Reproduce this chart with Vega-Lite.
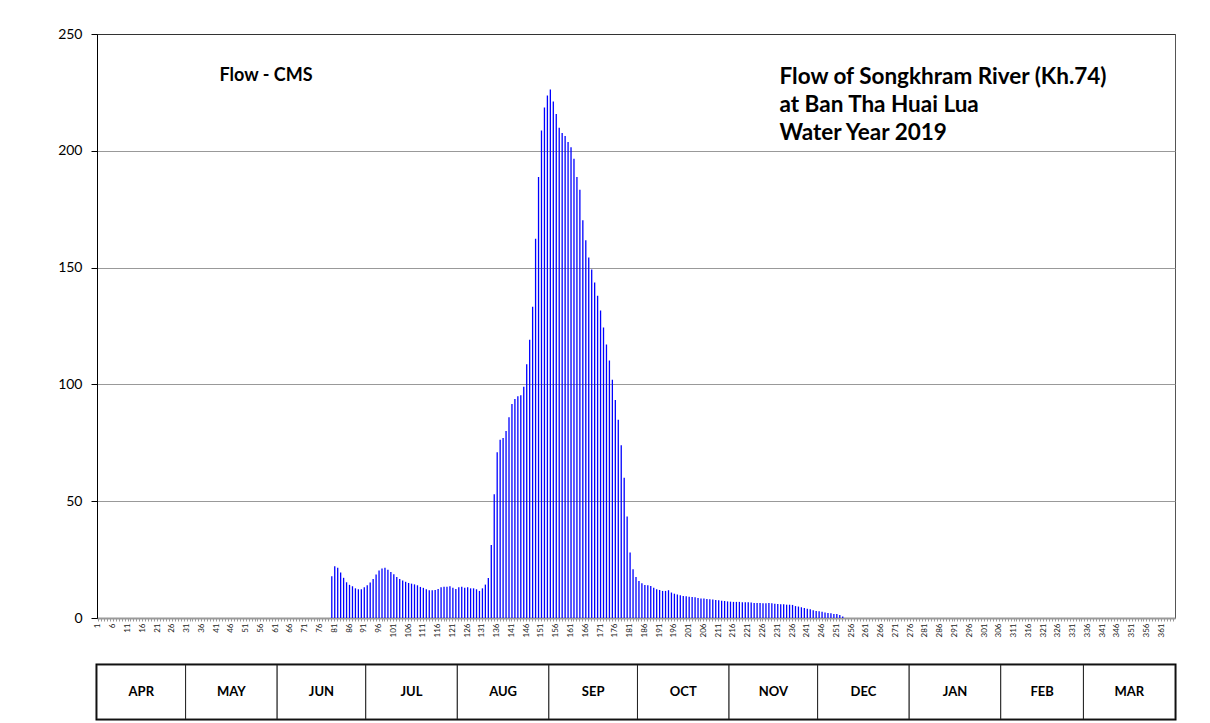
{
"$schema": "https://vega.github.io/schema/vega-lite/v6.json",
"background": "white",
"padding": {"left": 57, "top": 26, "right": 0, "bottom": 0},
"autosize": {"type": "pad"},
"config": {"font": "Lato", "view": {"stroke": null}},
"spacing": 25,
"datasets": {
"flow": [
{"day":1,"flow":0},{"day":2,"flow":0},{"day":3,"flow":0},{"day":4,"flow":0},{"day":5,"flow":0},{"day":6,"flow":0},{"day":7,"flow":0},{"day":8,"flow":0},{"day":9,"flow":0},{"day":10,"flow":0},
{"day":11,"flow":0},{"day":12,"flow":0},{"day":13,"flow":0},{"day":14,"flow":0},{"day":15,"flow":0},{"day":16,"flow":0},{"day":17,"flow":0},{"day":18,"flow":0},{"day":19,"flow":0},{"day":20,"flow":0},
{"day":21,"flow":0},{"day":22,"flow":0},{"day":23,"flow":0},{"day":24,"flow":0},{"day":25,"flow":0},{"day":26,"flow":0},{"day":27,"flow":0},{"day":28,"flow":0},{"day":29,"flow":0},{"day":30,"flow":0},
{"day":31,"flow":0},{"day":32,"flow":0},{"day":33,"flow":0},{"day":34,"flow":0},{"day":35,"flow":0},{"day":36,"flow":0},{"day":37,"flow":0},{"day":38,"flow":0},{"day":39,"flow":0},{"day":40,"flow":0},
{"day":41,"flow":0},{"day":42,"flow":0},{"day":43,"flow":0},{"day":44,"flow":0},{"day":45,"flow":0},{"day":46,"flow":0},{"day":47,"flow":0},{"day":48,"flow":0},{"day":49,"flow":0},{"day":50,"flow":0},
{"day":51,"flow":0},{"day":52,"flow":0},{"day":53,"flow":0},{"day":54,"flow":0},{"day":55,"flow":0},{"day":56,"flow":0},{"day":57,"flow":0},{"day":58,"flow":0},{"day":59,"flow":0},{"day":60,"flow":0},
{"day":61,"flow":0},{"day":62,"flow":0},{"day":63,"flow":0},{"day":64,"flow":0},{"day":65,"flow":0},{"day":66,"flow":0},{"day":67,"flow":0},{"day":68,"flow":0},{"day":69,"flow":0},{"day":70,"flow":0},
{"day":71,"flow":0},{"day":72,"flow":0},{"day":73,"flow":0},{"day":74,"flow":0},{"day":75,"flow":0},{"day":76,"flow":0},{"day":77,"flow":0},{"day":78,"flow":0},{"day":79,"flow":0},{"day":80,"flow":17.9},
{"day":81,"flow":22.2},{"day":82,"flow":21.5},{"day":83,"flow":19.5},{"day":84,"flow":17.2},{"day":85,"flow":15.3},{"day":86,"flow":14.2},{"day":87,"flow":13.6},{"day":88,"flow":12.7},{"day":89,"flow":12.3},{"day":90,"flow":12.3},
{"day":91,"flow":13.2},{"day":92,"flow":14.0},{"day":93,"flow":15.2},{"day":94,"flow":16.7},{"day":95,"flow":18.6},{"day":96,"flow":20.3},{"day":97,"flow":21.2},{"day":98,"flow":21.5},{"day":99,"flow":20.7},{"day":100,"flow":19.7},
{"day":101,"flow":18.7},{"day":102,"flow":17.6},{"day":103,"flow":16.7},{"day":104,"flow":16.0},{"day":105,"flow":15.5},{"day":106,"flow":15.0},{"day":107,"flow":14.7},{"day":108,"flow":14.4},{"day":109,"flow":14.0},{"day":110,"flow":13.3},
{"day":111,"flow":12.9},{"day":112,"flow":12.3},{"day":113,"flow":11.9},{"day":114,"flow":11.9},{"day":115,"flow":12.0},{"day":116,"flow":12.4},{"day":117,"flow":13.2},{"day":118,"flow":13.4},{"day":119,"flow":13.4},{"day":120,"flow":13.6},
{"day":121,"flow":13.0},{"day":122,"flow":12.4},{"day":123,"flow":13.2},{"day":124,"flow":13.4},{"day":125,"flow":12.9},{"day":126,"flow":13.2},{"day":127,"flow":12.7},{"day":128,"flow":12.7},{"day":129,"flow":12.3},{"day":130,"flow":11.6},
{"day":131,"flow":12.7},{"day":132,"flow":14.3},{"day":133,"flow":17.1},{"day":134,"flow":31.2},{"day":135,"flow":53.0},{"day":136,"flow":71.0},{"day":137,"flow":76.3},{"day":138,"flow":77.1},{"day":139,"flow":80.1},{"day":140,"flow":85.9},
{"day":141,"flow":91.6},{"day":142,"flow":93.8},{"day":143,"flow":94.9},{"day":144,"flow":95.4},{"day":145,"flow":99.0},{"day":146,"flow":108.6},{"day":147,"flow":119.1},{"day":148,"flow":133.2},{"day":149,"flow":162.4},{"day":150,"flow":188.8},
{"day":151,"flow":208.7},{"day":152,"flow":218.5},{"day":153,"flow":223.7},{"day":154,"flow":226.2},{"day":155,"flow":221.1},{"day":156,"flow":215.8},{"day":157,"flow":209.9},{"day":158,"flow":207.6},{"day":159,"flow":206.3},{"day":160,"flow":203.8},
{"day":161,"flow":201.5},{"day":162,"flow":196.6},{"day":163,"flow":188.8},{"day":164,"flow":183.3},{"day":165,"flow":170.3},{"day":166,"flow":161.7},{"day":167,"flow":154.3},{"day":168,"flow":149.2},{"day":169,"flow":143.6},{"day":170,"flow":138.0},
{"day":171,"flow":131.6},{"day":172,"flow":124.4},{"day":173,"flow":117.1},{"day":174,"flow":110.2},{"day":175,"flow":102.0},{"day":176,"flow":93.3},{"day":177,"flow":84.9},{"day":178,"flow":74.0},{"day":179,"flow":60.0},{"day":180,"flow":43.4},
{"day":181,"flow":28.0},{"day":182,"flow":20.9},{"day":183,"flow":17.5},{"day":184,"flow":15.8},{"day":185,"flow":14.9},{"day":186,"flow":14.1},{"day":187,"flow":14.0},{"day":188,"flow":13.7},{"day":189,"flow":13.0},{"day":190,"flow":12.3},
{"day":191,"flow":12.0},{"day":192,"flow":11.6},{"day":193,"flow":11.6},{"day":194,"flow":11.9},{"day":195,"flow":10.9},{"day":196,"flow":10.4},{"day":197,"flow":10.1},{"day":198,"flow":9.7},{"day":199,"flow":9.4},{"day":200,"flow":9.3},
{"day":201,"flow":9.1},{"day":202,"flow":9.0},{"day":203,"flow":8.9},{"day":204,"flow":8.6},{"day":205,"flow":8.4},{"day":206,"flow":8.3},{"day":207,"flow":8.1},{"day":208,"flow":8.0},{"day":209,"flow":7.9},{"day":210,"flow":7.7},
{"day":211,"flow":7.6},{"day":212,"flow":7.4},{"day":213,"flow":7.3},{"day":214,"flow":7.1},{"day":215,"flow":7.0},{"day":216,"flow":6.9},{"day":217,"flow":6.9},{"day":218,"flow":6.9},{"day":219,"flow":6.7},{"day":220,"flow":6.7},
{"day":221,"flow":6.7},{"day":222,"flow":6.6},{"day":223,"flow":6.4},{"day":224,"flow":6.4},{"day":225,"flow":6.4},{"day":226,"flow":6.3},{"day":227,"flow":6.3},{"day":228,"flow":6.4},{"day":229,"flow":6.3},{"day":230,"flow":6.1},
{"day":231,"flow":6.0},{"day":232,"flow":5.9},{"day":233,"flow":5.9},{"day":234,"flow":5.7},{"day":235,"flow":5.7},{"day":236,"flow":5.6},{"day":237,"flow":5.1},{"day":238,"flow":4.9},{"day":239,"flow":4.6},{"day":240,"flow":4.3},
{"day":241,"flow":4.0},{"day":242,"flow":3.7},{"day":243,"flow":3.3},{"day":244,"flow":3.0},{"day":245,"flow":2.9},{"day":246,"flow":2.7},{"day":247,"flow":2.4},{"day":248,"flow":2.1},{"day":249,"flow":2.0},{"day":250,"flow":1.7},
{"day":251,"flow":1.7},{"day":252,"flow":1.3},{"day":253,"flow":0.6},{"day":254,"flow":0},{"day":255,"flow":0},{"day":256,"flow":0},{"day":257,"flow":0},{"day":258,"flow":0},{"day":259,"flow":0},{"day":260,"flow":0},
{"day":261,"flow":0},{"day":262,"flow":0},{"day":263,"flow":0},{"day":264,"flow":0},{"day":265,"flow":0},{"day":266,"flow":0},{"day":267,"flow":0},{"day":268,"flow":0},{"day":269,"flow":0},{"day":270,"flow":0},
{"day":271,"flow":0},{"day":272,"flow":0},{"day":273,"flow":0},{"day":274,"flow":0},{"day":275,"flow":0},{"day":276,"flow":0},{"day":277,"flow":0},{"day":278,"flow":0},{"day":279,"flow":0},{"day":280,"flow":0},
{"day":281,"flow":0},{"day":282,"flow":0},{"day":283,"flow":0},{"day":284,"flow":0},{"day":285,"flow":0},{"day":286,"flow":0},{"day":287,"flow":0},{"day":288,"flow":0},{"day":289,"flow":0},{"day":290,"flow":0},
{"day":291,"flow":0},{"day":292,"flow":0},{"day":293,"flow":0},{"day":294,"flow":0},{"day":295,"flow":0},{"day":296,"flow":0},{"day":297,"flow":0},{"day":298,"flow":0},{"day":299,"flow":0},{"day":300,"flow":0},
{"day":301,"flow":0},{"day":302,"flow":0},{"day":303,"flow":0},{"day":304,"flow":0},{"day":305,"flow":0},{"day":306,"flow":0},{"day":307,"flow":0},{"day":308,"flow":0},{"day":309,"flow":0},{"day":310,"flow":0},
{"day":311,"flow":0},{"day":312,"flow":0},{"day":313,"flow":0},{"day":314,"flow":0},{"day":315,"flow":0},{"day":316,"flow":0},{"day":317,"flow":0},{"day":318,"flow":0},{"day":319,"flow":0},{"day":320,"flow":0},
{"day":321,"flow":0},{"day":322,"flow":0},{"day":323,"flow":0},{"day":324,"flow":0},{"day":325,"flow":0},{"day":326,"flow":0},{"day":327,"flow":0},{"day":328,"flow":0},{"day":329,"flow":0},{"day":330,"flow":0},
{"day":331,"flow":0},{"day":332,"flow":0},{"day":333,"flow":0},{"day":334,"flow":0},{"day":335,"flow":0},{"day":336,"flow":0},{"day":337,"flow":0},{"day":338,"flow":0},{"day":339,"flow":0},{"day":340,"flow":0},
{"day":341,"flow":0},{"day":342,"flow":0},{"day":343,"flow":0},{"day":344,"flow":0},{"day":345,"flow":0},{"day":346,"flow":0},{"day":347,"flow":0},{"day":348,"flow":0},{"day":349,"flow":0},{"day":350,"flow":0},
{"day":351,"flow":0},{"day":352,"flow":0},{"day":353,"flow":0},{"day":354,"flow":0},{"day":355,"flow":0},{"day":356,"flow":0},{"day":357,"flow":0},{"day":358,"flow":0},{"day":359,"flow":0},{"day":360,"flow":0},
{"day":361,"flow":0},{"day":362,"flow":0},{"day":363,"flow":0},{"day":364,"flow":0},{"day":365,"flow":0}
],
"months": [
{"month":"APR","from":0,"to":30,"mid":15},
{"month":"MAY","from":30,"to":61,"mid":45.5},
{"month":"JUN","from":61,"to":91,"mid":76},
{"month":"JUL","from":91,"to":122,"mid":106.5},
{"month":"AUG","from":122,"to":153,"mid":137.5},
{"month":"SEP","from":153,"to":183,"mid":168},
{"month":"OCT","from":183,"to":214,"mid":198.5},
{"month":"NOV","from":214,"to":244,"mid":229},
{"month":"DEC","from":244,"to":275,"mid":259.5},
{"month":"JAN","from":275,"to":306,"mid":290.5},
{"month":"FEB","from":306,"to":334,"mid":320},
{"month":"MAR","from":334,"to":365,"mid":349.5}
]
},
"vconcat": [
{
"width": 1078,
"height": 584,
"data": {"name": "flow"},
"view": {"stroke": "#555", "strokeWidth": 1},
"mark": {"type": "bar", "color": "#0000ff", "width": 1.3},
"encoding": {
"x": {"field": "day", "type": "ordinal",
"scale": {"paddingInner": 0, "paddingOuter": 0},
"axis": {"labelExpr": "datum.value % 5 == 1 ? datum.label : ''", "labelAngle": 270, "labelFontSize": 8, "labelFont": "Lato", "labelPadding": 2, "labelOverlap": false, "labelColor": "#222",
"tickSize": 3, "tickColor": "#999", "domainColor": "#999", "domainWidth": 2,
"title": ["Flow of Songkhram River (Kh.74)", "at Ban Tha Huai Lua", "Water Year 2019"],
"titleX": 682, "titleY": -542, "titleAlign": "left", "titleAnchor": "start", "titleBaseline": "middle", "titleFontSize": 22.5, "titleFontWeight": "bold", "titleLineHeight": 28, "titleColor": "black", "titleFont": "Lato"}},
"y": {"field": "flow", "type": "quantitative",
"scale": {"domain": [0, 250], "nice": false},
"axis": {"values": [0, 50, 100, 150, 200, 250], "grid": true,
"gridColor": {"condition": {"test": "datum.value == 250", "value": "#333"}, "value": "#999"}, "gridWidth": 1,
"domainColor": "black", "tickColor": "black", "tickSize": 6, "labelFontSize": 14, "labelColor": "black", "labelPadding": 9, "labelFont": "Lato",
"title": "Flow - CMS", "titleAngle": 0, "titleX": 122, "titleY": 41, "titleAlign": "left", "titleAnchor": "start", "titleBaseline": "middle", "titleFontSize": 18, "titleFontWeight": "bold", "titleColor": "black", "titleFont": "Lato"}}
}
},
{
"width": 1078,
"height": 54,
"data": {"name": "months"},
"view": {"stroke": "black", "strokeWidth": 3},
"layer": [
{"mark": {"type": "rect", "fill": "white", "stroke": "#222", "strokeWidth": 1},
"encoding": {"x": {"field": "from", "type": "quantitative", "scale": {"domain": [0, 365], "nice": false, "zero": false}, "axis": null}, "x2": {"field": "to"}}},
{"mark": {"type": "text", "font": "Lato", "fontWeight": "bold", "fontSize": 13, "color": "black"},
"encoding": {"x": {"field": "mid", "type": "quantitative"}, "text": {"field": "month"}}}
]
}
]
}
